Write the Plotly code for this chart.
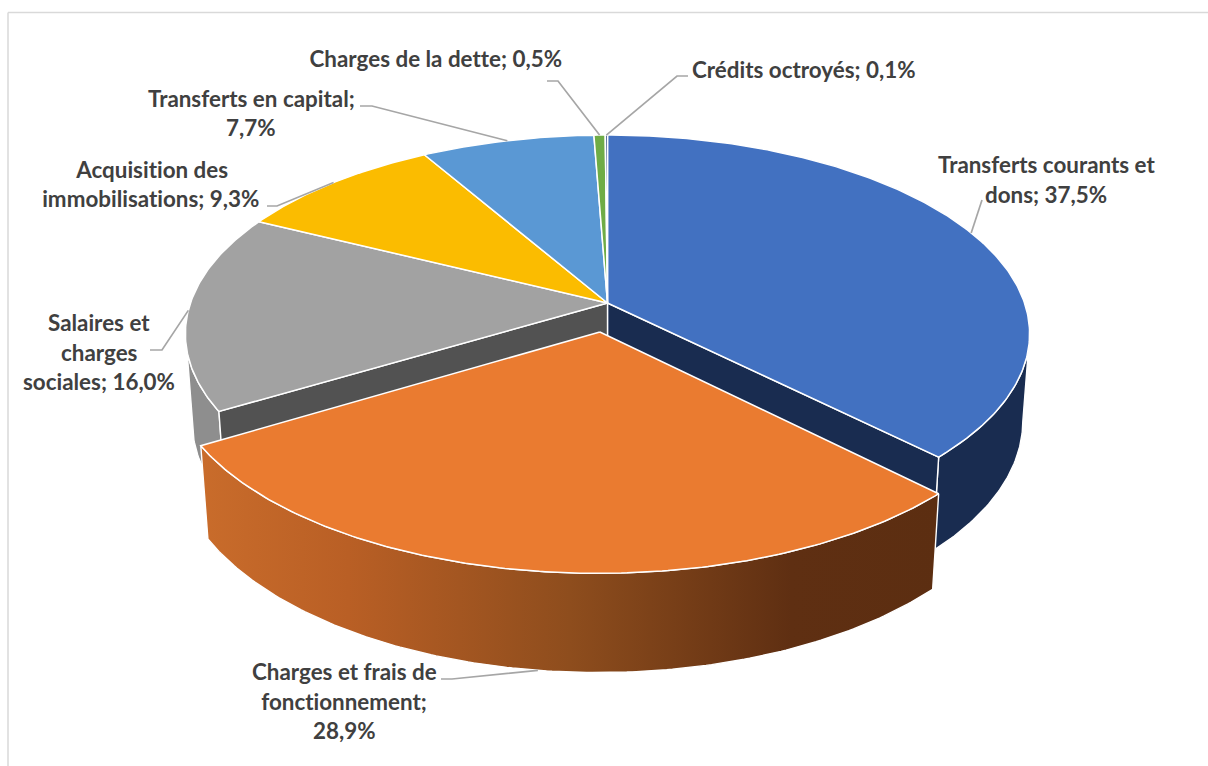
import numpy as np
import plotly.graph_objects as go

# ---- data ----
categories = ["Transferts courants et dons", "Charges et frais de fonctionnement",
              "Salaires et charges sociales", "Acquisition des immobilisations",
              "Transferts en capital", "Charges de la dette", "Crédits octroyés"]
shares = [37.5, 28.9, 16.0, 9.3, 7.7, 0.5, 0.1]
label_lines = [["Transferts courants et", "dons; 37,5%"],
               ["Charges et frais de", "fonctionnement;", "28,9%"],
               ["Salaires et", "charges", "sociales; 16,0%"],
               ["Acquisition des", "immobilisations; 9,3%"],
               ["Transferts en capital;", "7,7%"],
               ["Charges de la dette; 0,5%"],
               ["Crédits octroyés; 0,1%"]]
top_colors = ["#4271C1", "#EA7B30", "#A2A2A2", "#FBBC00", "#5A98D4", "#6FAC46", "#264478"]

# ---- perspective camera of the pie (in the page's axis units) ----
CX, CY = 607.5, 303.0
A, B = 417.0, 194.0
K, M, C = 0.155, 0.016, 87.5
EXPLODE = 0.147

def project(X, Y, Z=0.0):
    den = 1 - K * np.asarray(Y) + M * Z
    return CX + A * np.asarray(X) / den, CY + (B * np.asarray(Y) + C * Z) / den

cum = np.concatenate([[0], np.cumsum(shares)]) / sum(shares) * 360.0
mids = (cum[:-1] + cum[1:]) / 2

def offset(i):
    if i != 1:
        return 0.0, 0.0
    t = np.radians(mids[i])
    return EXPLODE * np.sin(t), -EXPLODE * np.cos(t)

def rim(i, deg, Z=0.0):
    t = np.radians(deg)
    ox, oy = offset(i)
    return project(ox + np.sin(t), oy - np.cos(t), Z)

def arc(i, d0, d1, Z=0.0):
    n = max(3, int(abs(d1 - d0) * 1.5) + 2)
    return rim(i, np.linspace(d0, d1, n), Z)

fig = go.Figure()

def poly(x, y, color, lw=1.4, **kw):
    fig.add_trace(go.Scatter(x=np.r_[x, x[0]], y=np.r_[y, y[0]], mode="lines", fill="toself",
                             fillcolor=color, line=dict(color="white", width=lw),
                             hoverinfo="skip", showlegend=False, **kw))

def side(i, d0, d1, color, **kw):
    x0, y0 = arc(i, d0, d1)
    x1, y1 = arc(i, d0, d1, 1.0)
    poly(np.r_[x0, x1[::-1]], np.r_[y0, y1[::-1]], color, **kw)

def wall(i, deg, color):
    ax, ay = project(*offset(i))
    bx, by = project(*offset(i), 1.0)
    ex, ey = rim(i, deg)
    fx, fy = rim(i, deg, 1.0)
    poly(np.array([ax, ex, fx, bx]), np.array([ay, ey, fy, by]), color)

def top(i):
    x, y = arc(i, cum[i], cum[i + 1])
    ax, ay = project(*offset(i))
    poly(np.r_[ax, x], np.r_[ay, y], top_colors[i], lw=1.5)

# back to front
side(2, cum[2], 262.0, "#8E8E8E")
side(0, 99.0, cum[1], "#192C50")
wall(0, cum[1], "#192C50")
wall(2, cum[2], "#525252")
for i in [0, 2, 3, 4, 5, 6]:
    top(i)
side(1, cum[1], cum[2], "#8A4A1C",
     fillgradient=dict(type="horizontal",
                       colorscale=[[0, "#C96C2B"], [0.2, "#B95F25"], [0.5, "#8E4D1D"],
                                   [0.8, "#5F2F12"], [1, "#5C2E11"]]))
top(1)

# ---- leader lines: from the label elbow to the slice's rim ----
elbows = [[(982, 200)], [(441, 679), (452, 679)], [(150, 350), (162, 350)],
          [(267, 206), (277, 206)], [(360, 106), (372, 106)], [(547, 81), (558, 81)],
          [(688, 76), (677, 76)]]
for i, pts in enumerate(elbows):
    ex, ey = rim(i, mids[i], 1.0 if i == 1 else 0.0)
    fig.add_trace(go.Scatter(x=[p[0] for p in pts] + [float(ex)],
                             y=[p[1] for p in pts] + [float(ey)],
                             mode="lines", line=dict(color="#A6A6A6", width=1.7),
                             hoverinfo="skip", showlegend=False))

# ---- labels ----
label_pos = [(1046, [165, 195]), (344, [672, 702, 731]), (99, [323, 353, 382]),
             (151, [170, 199]), (251, [99, 128]), (435.5, [59]), (804, [70])]
annotations = []
for lines, (lx, ys) in zip(label_lines, label_pos):
    for txt, ly in zip(lines, ys):
        annotations.append(dict(x=lx, y=ly - 0.5, text="<b>%s</b>" % txt, showarrow=False,
                                xanchor="center", yanchor="middle",
                                font=dict(family="Lato", size=22.4, color="#404040")))

fig.update_layout(
    width=1208, height=766, margin=dict(l=0, r=0, t=0, b=0),
    paper_bgcolor="white", plot_bgcolor="white", showlegend=False,
    xaxis=dict(range=[0, 1208], visible=False, fixedrange=True),
    yaxis=dict(range=[766, 0], visible=False, fixedrange=True),
    annotations=annotations,
    shapes=[dict(type="line", x0=8, x1=1208, y0=12.5, y1=12.5, line=dict(color="#D9D9D9", width=1.5)),
            dict(type="line", x0=8, x1=8, y0=12.5, y1=766, line=dict(color="#D9D9D9", width=1.5))],
)
fig.write_html("out.html", config={"displayModeBar": False},
               post_script="document.body.style.margin='0';document.body.style.overflow='hidden';"
                           "var s=document.createElement('style');"
                           "s.textContent='text,tspan{font-variant-ligatures:none !important;"
                           "font-feature-settings:\"liga\" 0 !important}';"
                           "document.head.appendChild(s);")
